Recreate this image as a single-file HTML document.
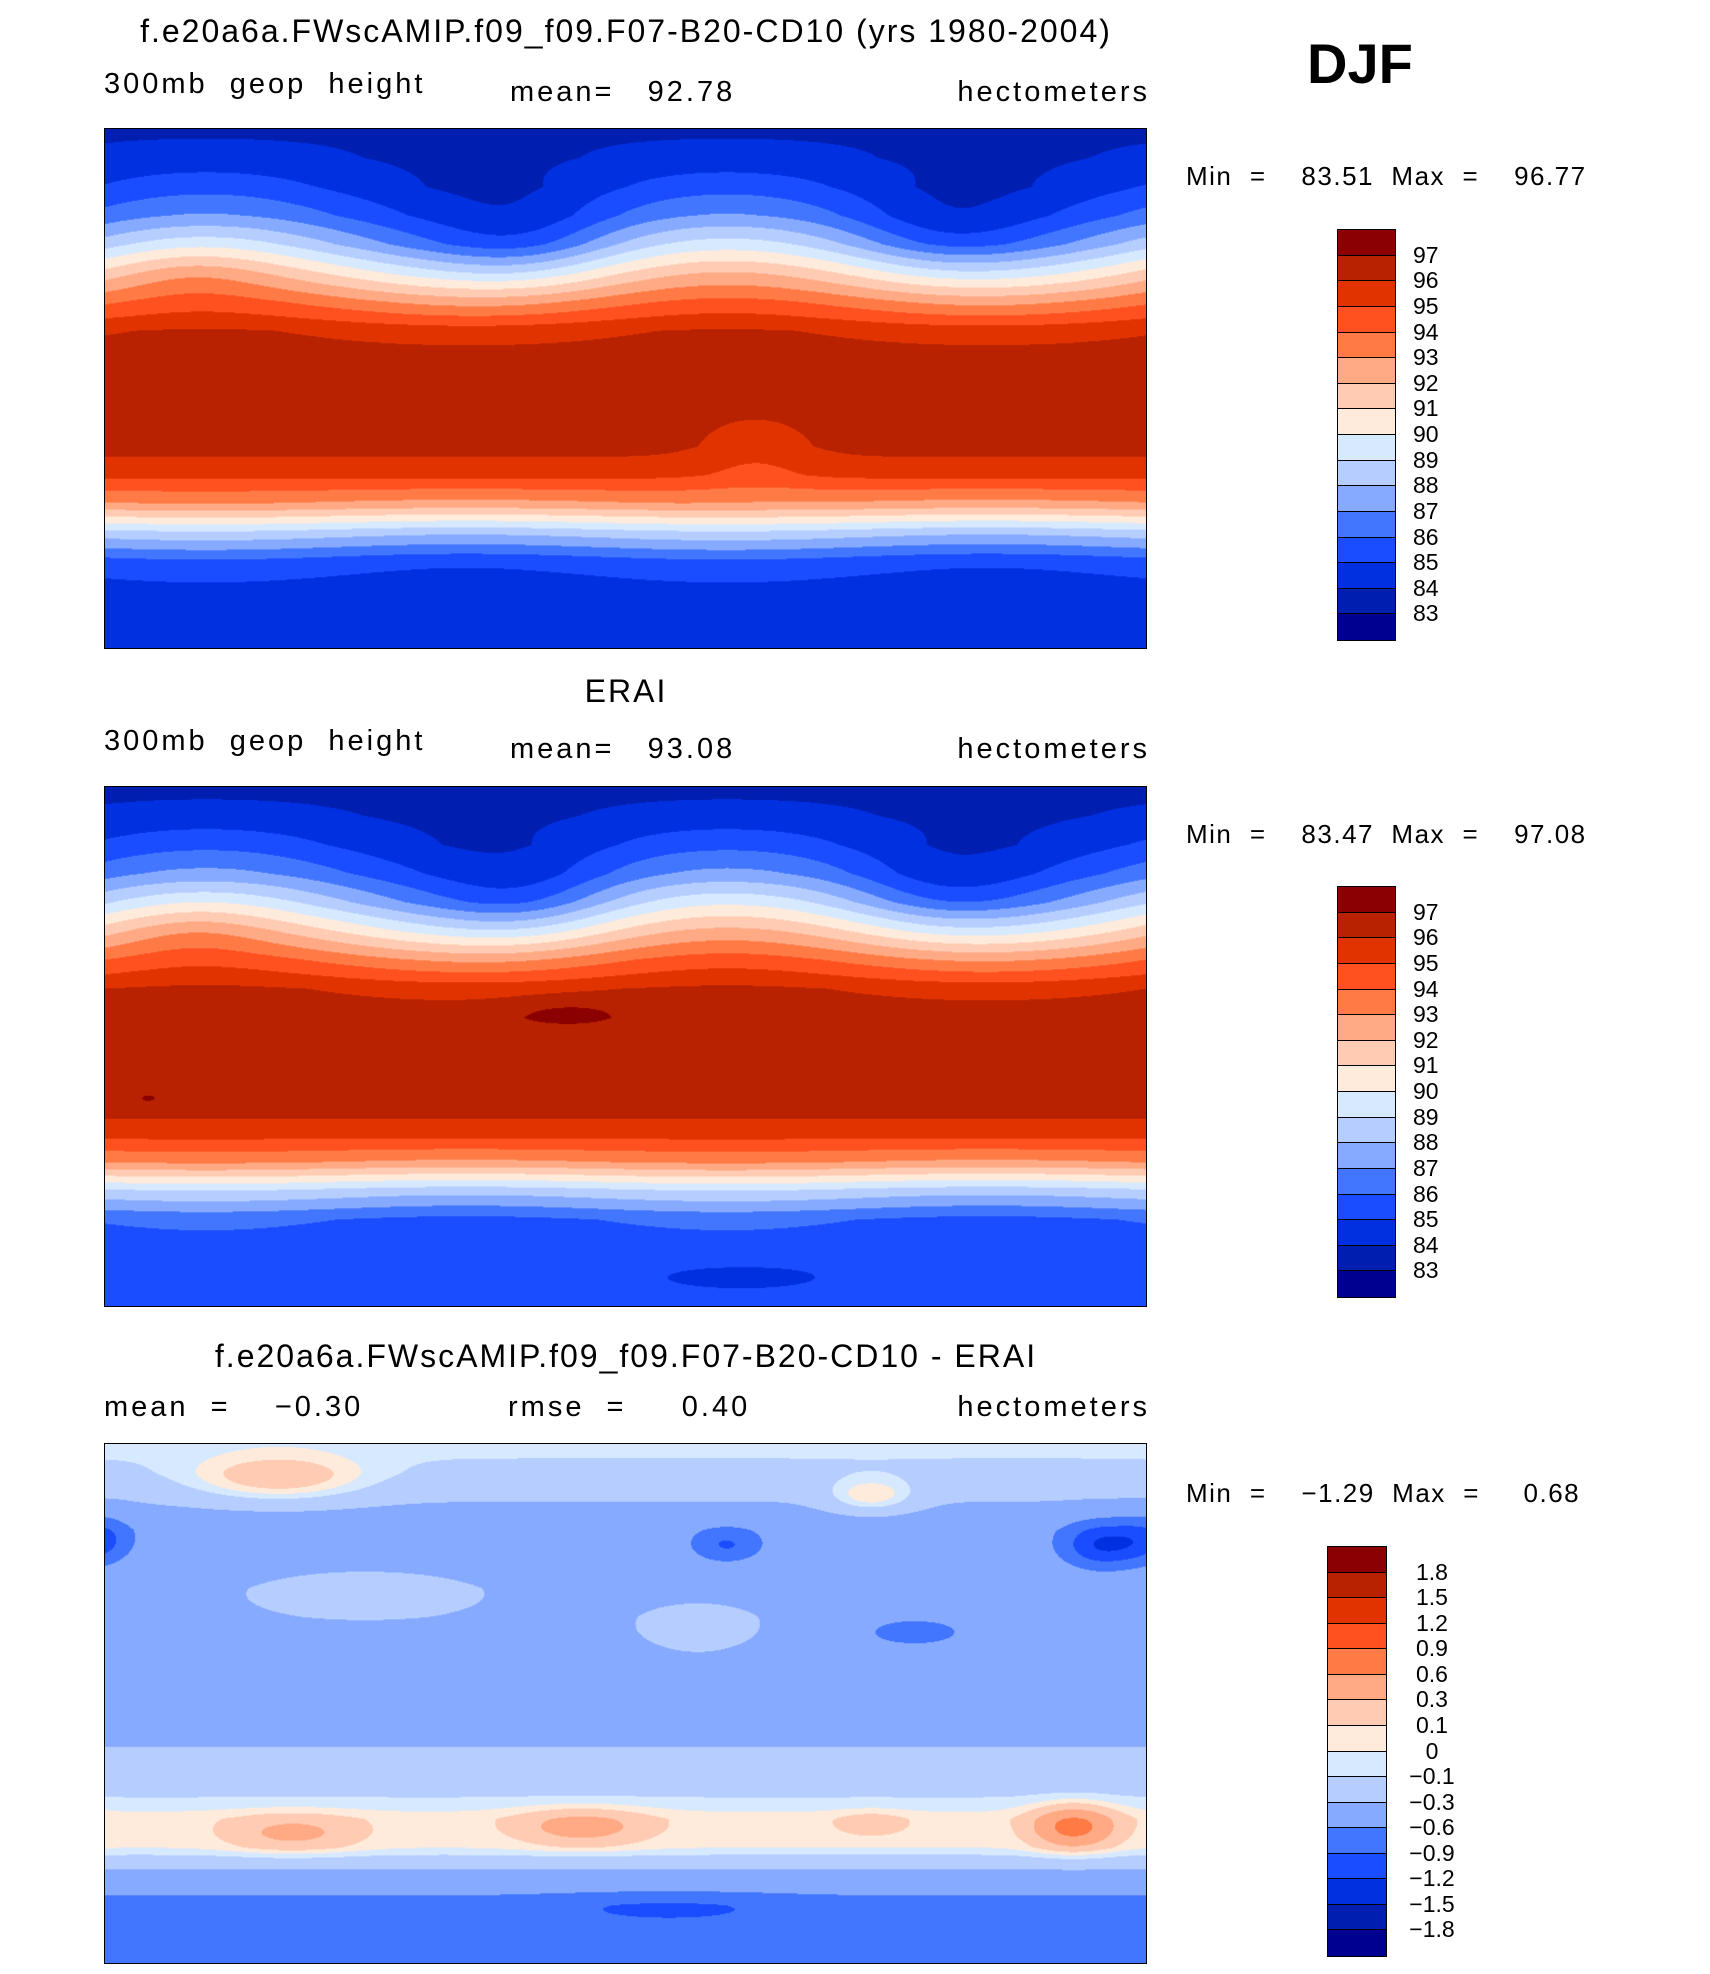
<!DOCTYPE html>
<html><head><meta charset="utf-8">
<style>
body{margin:0;background:#fff;width:1710px;height:1974px;position:relative;overflow:hidden;font-family:"Liberation Sans",sans-serif;color:#000}
.t{position:absolute;white-space:pre;line-height:1}
.sub{font-size:29px;letter-spacing:3px}
.mm{font-size:26px;letter-spacing:1.5px}
.ttl{font-size:32px;letter-spacing:2px;left:0;width:1252px;text-align:center}
canvas{position:absolute;border:1.5px solid #000;box-sizing:border-box}
.cb{position:absolute}
.cb div{position:absolute;left:0;right:0;border:1.5px solid #000;box-sizing:border-box}
.lbl{position:absolute;font-size:23px;white-space:pre;line-height:1}
</style></head><body>
<div class="t ttl" style="top:15px">f.e20a6a.FWscAMIP.f09_f09.F07-B20-CD10 (yrs 1980-2004)</div>
<div class="t" style="left:1307px;top:36px;font-size:56px;font-weight:bold">DJF</div>

<div class="t sub" style="left:104px;top:70px">300mb  geop  height</div>
<div class="t sub" style="left:510px;top:78px">mean=   92.78</div>
<div class="t sub" style="right:560px;top:78px">hectometers</div>
<div class="t mm" style="left:1186px;top:163px">Min  =    83.51  Max  =    96.77</div>

<div class="t ttl" style="top:675px">ERAI</div>
<div class="t sub" style="left:104px;top:727px">300mb  geop  height</div>
<div class="t sub" style="left:510px;top:735px">mean=   93.08</div>
<div class="t sub" style="right:560px;top:735px">hectometers</div>
<div class="t mm" style="left:1186px;top:821px">Min  =    83.47  Max  =    97.08</div>

<div class="t ttl" style="top:1340px">f.e20a6a.FWscAMIP.f09_f09.F07-B20-CD10 - ERAI</div>
<div class="t sub" style="left:104px;top:1393px">mean  =    −0.30</div>
<div class="t sub" style="left:508px;top:1393px">rmse  =     0.40</div>
<div class="t sub" style="right:560px;top:1393px">hectometers</div>
<div class="t mm" style="left:1186px;top:1480px">Min  =    −1.29  Max  =     0.68</div>

<canvas id="m1" width="1043" height="521" style="left:104px;top:128px;width:1043px;height:521px"></canvas>
<canvas id="m2" width="1043" height="521" style="left:104px;top:786px;width:1043px;height:521px"></canvas>
<canvas id="m3" width="1043" height="521" style="left:104px;top:1443px;width:1043px;height:521px"></canvas>

<div id="cb1" class="cb" style="left:1337px;top:229px;width:59px;height:410px"></div>
<div id="cb2" class="cb" style="left:1337px;top:886px;width:59px;height:410px"></div>
<div id="cb3" class="cb" style="left:1327px;top:1546px;width:60px;height:409px"></div>

<script>
const colors=["#8b0000","#b82200","#e03300","#ff5020","#ff7a45","#ffaa85","#ffcbb3","#ffebdb","#d6e9ff","#b5cdff","#85aaff","#4276ff","#1a4dff","#0030e0","#001eb0","#000090"];
const levelsAbs=[97,96,95,94,93,92,91,90,89,88,87,86,85,84,83];
const levelsDiff=[1.8,1.5,1.2,0.9,0.6,0.3,0.1,0,-0.1,-0.3,-0.6,-0.9,-1.2,-1.5,-1.8];
const tickAbs=["97","96","95","94","93","92","91","90","89","88","87","86","85","84","83"];
const tickDiff=["1.8","1.5","1.2","0.9","0.6","0.3","0.1","0","−0.1","−0.3","−0.6","−0.9","−1.2","−1.5","−1.8"];
const lats=[90,80,70,60,50,40,30,20,10,0,-10,-20,-30,-40,-50,-60,-70,-80,-90];
const zonal1=[83.8,84.1,84.8,86.0,88.0,90.8,93.5,95.8,96.5,96.6,96.6,96.4,95.3,92.8,88.5,85.5,84.5,84.3,84.2];
const zonal2=[83.7,84.1,84.9,86.2,88.3,91.0,93.7,95.9,96.6,96.7,96.7,96.5,95.5,93.0,88.7,86.0,85.3,85.4,85.4];
const zonal3=[-0.05,-0.15,-0.3,-0.45,-0.4,-0.35,-0.35,-0.4,-0.4,-0.4,-0.35,-0.25,-0.15,0.05,0.0,-0.4,-0.7,-0.6,-0.6];
const waveAmp1=[0,0.3,0.8,1.1,1.5,1.3,0.8,0.3,0,0,0,0,0,0.2,0.3,0.3,0.2,0,0];
const waveAmp2=[0,0.3,0.8,1.1,1.5,1.3,0.8,0.3,0,0,0,0,0,0.2,0.3,0.3,0.2,0,0];
const waveAmp3=[0,0,0,0,0,0,0,0,0,0,0,0,0,0,0,0,0,0,0];
// blobs: [lon, lat, amp, rlon, rlat]
const blobs1=[[145,52,-1.2,30,16],[290,55,-1.0,30,14],[225,-20,-0.9,22,14],[30,40,0.6,25,10]];
const blobs2=[[145,52,-1.2,30,16],[290,55,-1.0,30,14],[160,12,0.75,22,5],[15,-18,0.55,5,2],[220,-80,-0.6,40,6],[30,40,0.6,25,10]];
const blobs3=[[60,78,0.4,30,8],[265,72,0.35,15,6],[0,57,-0.4,10,8],[345,55,-0.8,14,8],[215,55,-0.5,12,6],[280,25,-0.4,18,5],[90,38,0.2,35,8],[205,25,0.22,20,8],[65,-45,0.35,22,6],[165,-43,0.4,22,6],[335,-43,0.7,14,7],[265,-42,0.2,12,4],[195,-72,-0.3,40,5]];

function interp(arr,lat){const t=(90-lat)/10;const i=Math.min(17,Math.floor(t));const f=t-i;return arr[i]*(1-f)+arr[i+1]*f;}
function field(lon,lat,z,w,b){
 let v=interp(z,lat)+interp(w,lat)*Math.cos(2*(lon-35)*Math.PI/180);
 for(const q of b){let dl=Math.abs(lon-q[0]);if(dl>180)dl=360-dl;const d=(dl/q[3])**2+((lat-q[1])/q[4])**2;v+=q[2]*Math.exp(-d);}
 return v;}
function hex(c){return[parseInt(c.substr(1,2),16),parseInt(c.substr(3,2),16),parseInt(c.substr(5,2),16)];}
const rgb=colors.map(hex);
function draw(id,z,w,b,lev){
 const cv=document.getElementById(id),ctx=cv.getContext('2d'),W=cv.width,H=cv.height;
 const img=ctx.createImageData(W,H);
 for(let y=0;y<H;y++){const lat=90-(y+0.5)/H*180;
  for(let x=0;x<W;x++){const lon=(x+0.5)/W*360;const v=field(lon,lat,z,w,b);
   let k=0;while(k<lev.length&&v<lev[k])k++;
   const c=rgb[k],p=(y*W+x)*4;img.data[p]=c[0];img.data[p+1]=c[1];img.data[p+2]=c[2];img.data[p+3]=255;}}
 ctx.putImageData(img,0,0);}
draw('m1',zonal1,waveAmp1,blobs1,levelsAbs);
draw('m2',zonal2,waveAmp2,blobs2,levelsAbs);
draw('m3',zonal3,waveAmp3,blobs3,levelsDiff);
function bar(id,ticks,center){
 const el=document.getElementById(id);const h=parseFloat(el.style.height),top=parseFloat(el.style.top),left=parseFloat(el.style.left),wd=parseFloat(el.style.width);const bh=h/16;
 colors.forEach((c,i)=>{const d=document.createElement('div');
  
  
  d.style.top=(i*bh)+'px';d.style.height=(bh+1.5)+'px';d.style.background=c;el.appendChild(d);});
 ticks.forEach((t,j)=>{const s=document.createElement('div');
  
  
  s.className='lbl';s.textContent=t;const yy=top+(j+1)*bh-11;s.style.top=yy+'px';
  if(center){s.style.left=(left+wd+10)+'px';s.style.width='70px';s.style.textAlign='center';}else{s.style.left=(left+wd+17)+'px';}
  document.body.appendChild(s);});}
bar('cb1',tickAbs,false);bar('cb2',tickAbs,false);bar('cb3',tickDiff,true);
</script>
</body></html>
